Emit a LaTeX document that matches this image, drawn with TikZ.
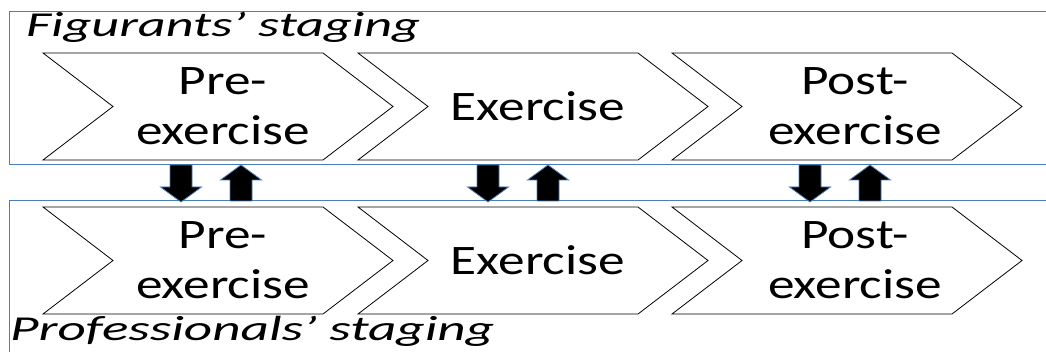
\documentclass[tikz,border=0pt]{standalone}
\usepackage{fontspec}
\setmainfont{Carlito}
\usepackage{graphicx}
\definecolor{boxblue}{HTML}{4A7EBB}
\newcommand\hs[1]{\scalebox{1.27}[1]{#1}}
\begin{document}
\begin{tikzpicture}[x=1pt,y=-1pt,
  frame/.style={draw=boxblue,line width=1pt},
  chev/.style={draw=black,line width=0.8pt,fill=white},
  lbl/.style={align=center,inner sep=0pt,font=\fontsize{42}{50}\selectfont},
  ttl/.style={inner sep=0pt,anchor=base west,font=\fontsize{35}{40}\selectfont\itshape},
  blk/.style={fill=black,draw=boxblue,line width=0.8pt}]
\clip (0,0) rectangle (1046,352);
\fill[white] (0,0) rectangle (1046,352);
% outer frames
\draw[frame] (9,12) rectangle (1060,165);
\draw[frame] (9,201) rectangle (1060,380);
% chevrons
\foreach \x/\y in {43/53,358/53,672/53,43/207,358/207,672/207}{
  \draw[chev] (\x,\y) -- ++(280,0) -- ++(70,53.5) -- ++(-70,53.5) -- ++(-280,0) -- ++(70,-53.5) -- cycle;
}
% labels
\node[lbl] (f1) at (223,106.5) {\hs{Pre-}\\\hs{exercise}};
\node[lbl] (f2) at (538,106.5) {\hs{Exercise}};
\node[lbl] (f3) at (855,106.5) {\hs{Post-}\\\hs{exercise}};
\node[lbl] (p1) at (223,260.5) {\hs{Pre-}\\\hs{exercise}};
\node[lbl] (p2) at (538,260.5) {\hs{Exercise}};
\node[lbl] (p3) at (855,260.5) {\hs{Post-}\\\hs{exercise}};
% titles
\node[ttl] (tf) at (26,37) {\resizebox{394pt}{\height}{Figurants’ staging}};
\node[ttl] (tp) at (10,341) {\resizebox{484pt}{\height}{Professionals’ staging}};
% arrows
\foreach \d/\u in {181/241,488/548,810/870}{
  \draw[blk] (\d-11,165) -- (\d+11,165) -- (\d+11,187) -- (\d+20.5,187) -- (\d,202) -- (\d-20.5,187) -- (\d-11,187) -- cycle;
  \draw[blk] (\u-11,201) -- (\u+11,201) -- (\u+11,180) -- (\u+20.5,180) -- (\u,165) -- (\u-20.5,180) -- (\u-11,180) -- cycle;
}
\end{tikzpicture}
\end{document}
